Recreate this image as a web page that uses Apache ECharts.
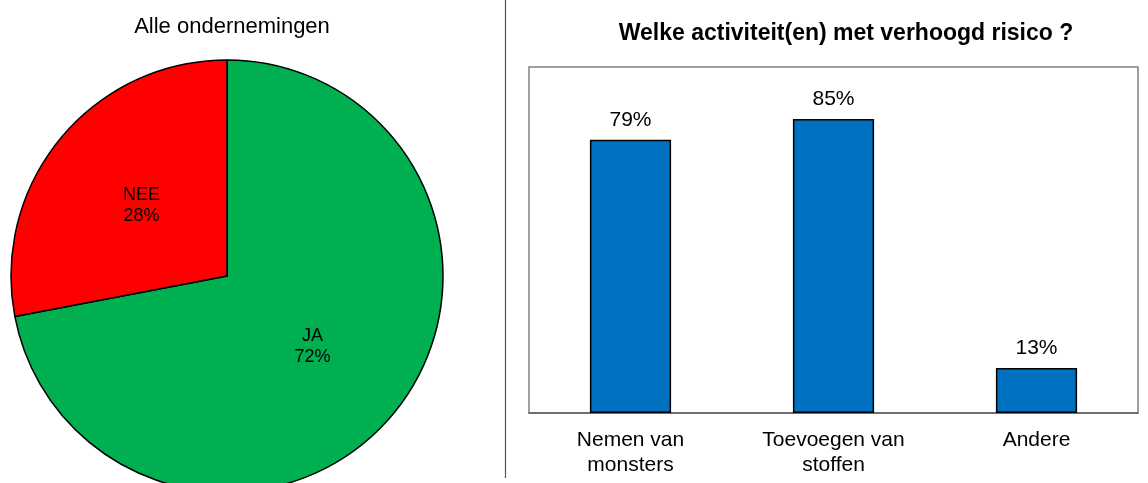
<!DOCTYPE html>
<html>
<head>
<meta charset="utf-8">
<script src="https://cdn.jsdelivr.net/npm/echarts@6/dist/echarts.min.js"></script>
<style>
  html, body { margin: 0; padding: 0; background: #fff; }
  #chart { width: 1148px; height: 483px; }
</style>
</head>
<body>
<div id="chart"></div>
<script>
// pie: alle ondernemingen
const pieNames = ["JA", "NEE"];
const pieValues = [72, 28];
const pieColors = ["#00B050", "#FF0000"];

// bars: activiteiten met verhoogd risico
const categories = ["Nemen van\nmonsters", "Toevoegen van\nstoffen", "Andere"];
const barValues = [79, 85, 13];

const font = "Liberation Sans, Arial, sans-serif";

const chart = echarts.init(document.getElementById("chart"), null, { renderer: "canvas" });

const option = {
  animation: false,
  textStyle: { fontFamily: font, color: "#000" },
  title: [
    {
      text: "Alle ondernemingen",
      left: 227, top: 11, textAlign: "center",
      textStyle: { fontSize: 22, fontWeight: "normal", color: "#000", fontFamily: font },
    },
    {
      text: "Welke activiteit(en) met verhoogd risico ?",
      left: 841, top: 17, textAlign: "center",
      textStyle: { fontSize: 23, fontWeight: "bold", color: "#000", fontFamily: font },
    },
  ],
  grid: {
    left: 529, top: 67, width: 609, height: 346,
    show: true, borderColor: "#808080", borderWidth: 1.5,
  },
  xAxis: {
    type: "category",
    data: categories,
    axisLine: { lineStyle: { color: "#606060", width: 1.5 } },
    axisTick: { show: false },
    axisLabel: { color: "#000", fontSize: 21, lineHeight: 25, margin: 15, fontFamily: font },
  },
  yAxis: {
    type: "value", min: 0, max: 100,
    show: false,
    splitLine: { show: false },
  },
  graphic: [
    {
      type: "line",
      shape: { x1: 505.5, y1: 0, x2: 505.5, y2: 478 },
      style: { stroke: "#555", lineWidth: 1.2 },
    },
  ],
  series: [
    {
      type: "pie",
      center: [227, 276],
      radius: 216,
      startAngle: 90,
      clockwise: true,
      data: pieNames.map((n, i) => ({
        name: n, value: pieValues[i],
        itemStyle: { color: pieColors[i] },
      })),
      itemStyle: { borderColor: "#000", borderWidth: 1.5 },
      label: {
        position: "inside",
        formatter: (p) => p.name + "\n" + p.value + "%",
        color: "#000", fontSize: 18, lineHeight: 21, fontFamily: font,
      },
      labelLine: { show: false },
      emphasis: { disabled: true },
    },
    {
      type: "bar",
      data: barValues,
      barCategoryGap: "60%",
      itemStyle: { color: "#0070C0", borderColor: "#000", borderWidth: 1.5 },
      label: {
        show: true, position: "top", distance: 9,
        formatter: (p) => p.value + "%",
        color: "#000", fontSize: 21, fontFamily: font,
      },
    },
  ],
};

chart.setOption(option);
</script>
</body>
</html>
